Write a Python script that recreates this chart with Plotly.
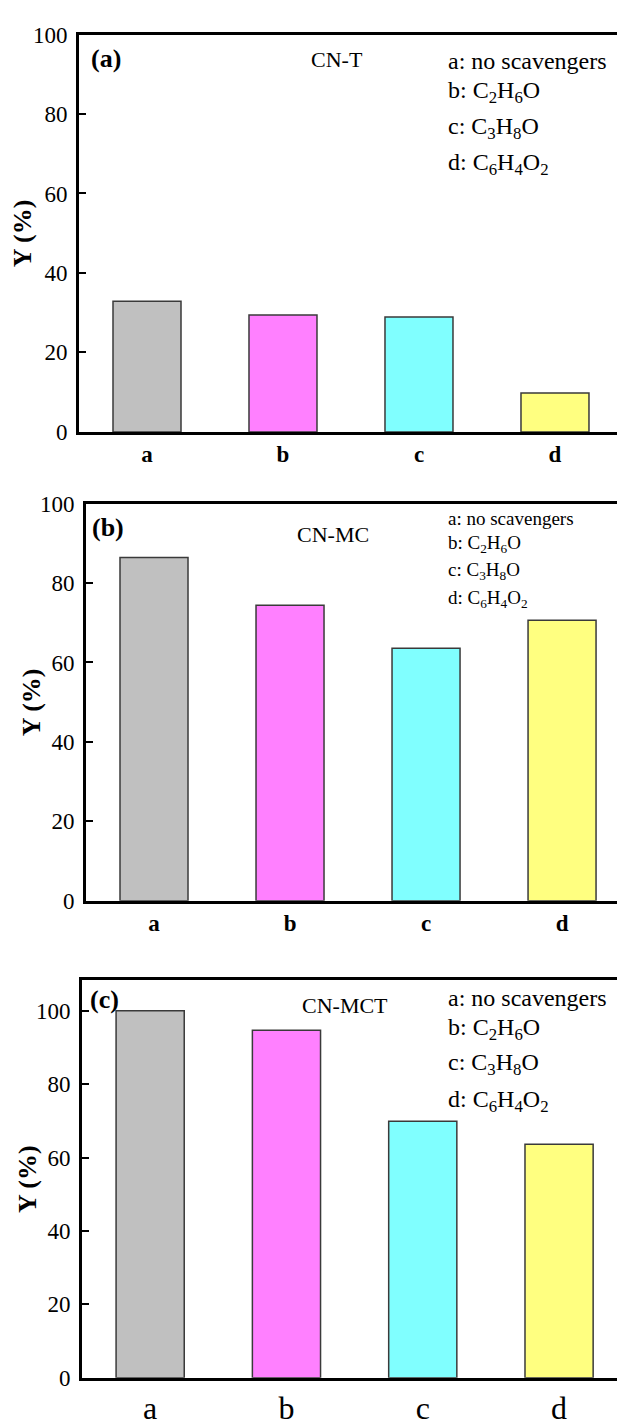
import plotly.graph_objects as go

W, H = 617, 1426

categories = ["a", "b", "c", "d"]
values_a = [32.9, 29.4, 28.9, 9.8]
values_b = [86.4, 74.4, 63.6, 70.6]
values_c = [100.0, 94.7, 69.9, 63.6]
bar_colors = ["#C0C0C0", "#FF80FF", "#80FFFF", "#FFFF80"]
panel_labels = ["(a)", "(b)", "(c)"]
sample_names = ["CN-T", "CN-MC", "CN-MCT"]
legend_lines = [
    "a: no scavengers",
    "b: C<sub>2</sub>H<sub>6</sub>O",
    "c: C<sub>3</sub>H<sub>8</sub>O",
    "d: C<sub>6</sub>H<sub>4</sub>O<sub>2</sub>",
]
y_ticks = [0, 20, 40, 60, 80, 100]
y_title = "Y (%)"

FONT = "Liberation Serif, Times New Roman, serif"

# panel geometry in pixels: (left, top, bottom), x range, y range
panels = [
    dict(left=79, top=23, bottom=428, xr=[-0.5, 3.456], yr=[0, 100], vals=values_a,
         xbold=True, xsize=23, xstand=0, legsize=24, legy=[50, 82, 118, 155],
         lab=(106, 47), name=(337, 48), ytx=22),
    dict(left=86, top=501, bottom=906, xr=[-0.5, 3.404], yr=[0, 100], vals=values_b,
         xbold=True, xsize=23, xstand=0, legsize=19, legy=[516, 542, 570, 598],
         lab=(108, 525), name=(333, 533), ytx=31),
    dict(left=82, top=987, bottom=1392, xr=[-0.5, 3.425], yr=[0, 108.3], vals=values_c,
         xbold=False, xsize=32, xstand=0, legsize=24, legy=[1005, 1037, 1072, 1110],
         lab=(104, 1007), name=(345, 1013), ytx=28),
]

fig = go.Figure()
annotations = []
layout = {}
for i, p in enumerate(panels):
    n = "" if i == 0 else str(i + 1)
    xa, ya = "x" + n, "y" + n
    fig.add_trace(go.Bar(
        x=categories, y=p["vals"], width=0.5,
        marker=dict(color=bar_colors, line=dict(color="#3a3a3a", width=1.5)),
        xaxis=xa, yaxis=ya, showlegend=False,
    ))
    layout["xaxis" + n] = dict(
        domain=[p["left"] / W, 1], anchor=ya, type="category",
        range=p["xr"], showline=True, linecolor="black", linewidth=3,
        mirror=True, ticks="", showgrid=False, zeroline=False,
        tickfont=dict(family=FONT, size=p["xsize"], color="black",
                      weight="bold" if p["xbold"] else "normal"),
        ticklabelstandoff=p["xstand"],
    )
    layout["yaxis" + n] = dict(
        domain=[1 - p["bottom"] / H, 1 - p["top"] / H], anchor=xa,
        range=p["yr"], tickvals=y_ticks, showline=True, linecolor="black",
        linewidth=3, ticks="inside", ticklen=7, tickwidth=2, tickcolor="black",
        showgrid=False, zeroline=False,
        tickfont=dict(family=FONT, size=23, color="black"),
        ticklabelstandoff=4,
    )
    mid = (p["top"] + p["bottom"]) / 2
    annotations.append(dict(
        text="<b>" + y_title + "</b>", x=p["ytx"] / W, y=1 - mid / H,
        xref="paper", yref="paper", textangle=-90, showarrow=False,
        xanchor="center", yanchor="middle",
        font=dict(family=FONT, size=26, color="black"),
    ))
    annotations.append(dict(
        text="<b>" + panel_labels[i] + "</b>", x=p["lab"][0] / W, y=1 - p["lab"][1] / H,
        xref="paper", yref="paper", showarrow=False, xanchor="center", yanchor="middle",
        font=dict(family=FONT, size=26, color="black"),
    ))
    annotations.append(dict(
        text=sample_names[i], x=p["name"][0] / W, y=1 - p["name"][1] / H,
        xref="paper", yref="paper", showarrow=False, xanchor="center", yanchor="middle",
        font=dict(family=FONT, size=22, color="black"),
    ))
    for line, ly in zip(legend_lines, p["legy"]):
        annotations.append(dict(
            text=line, x=446 / W, y=1 - ly / H, xref="paper", yref="paper",
            showarrow=False, xanchor="left", yanchor="middle",
            font=dict(family=FONT, size=p["legsize"], color="black"),
        ))

fig.update_layout(
    width=W, height=H, margin=dict(l=0, r=0, t=0, b=0),
    paper_bgcolor="white", plot_bgcolor="white",
    annotations=annotations, bargap=0.5,
    **layout,
)
fig.write_html("out.html")
